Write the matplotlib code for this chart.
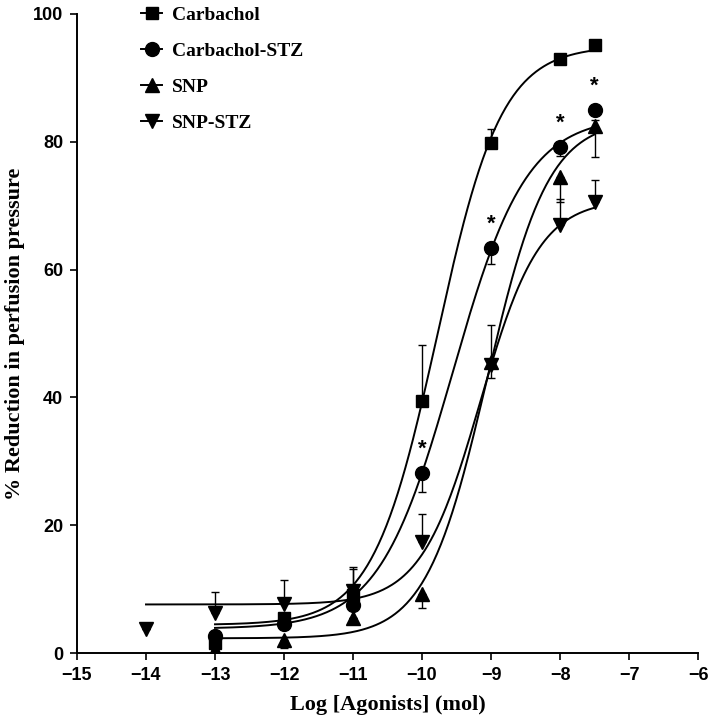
import numpy as np
import matplotlib
matplotlib.use("Agg")
import matplotlib.pyplot as plt

# Data
x_main = [-13, -12, -11, -10, -9, -8, -7.5]
x_snp_stz = [-14, -13, -12, -11, -10, -9, -8, -7.5]

carb = [1.5, 5.5, 9.0, 39.4, 79.8, 92.9, 95.2]
carb_up = [0, 0, 4.5, 8.8, 2.2, 0, 0.8]
carb_dn = [0, 1.8, 0, 0, 0, 0, 0]

carb_stz = [2.7, 4.5, 7.5, 28.2, 63.4, 79.2, 85.0]
carb_stz_up = [0, 0, 0, 0, 0, 0, 0]
carb_stz_dn = [0, 0, 0, 3.0, 2.5, 1.5, 0]

snp = [0.5, 2.0, 5.5, 9.2, 45.5, 74.5, 82.4]
snp_up = [0, 0, 0, 0, 5.8, 0, 1.0]
snp_dn = [0, 1.2, 0, 2.2, 0, 4.0, 4.8]

snp_stz = [3.8, 6.2, 7.7, 9.7, 17.3, 45.0, 67.0, 70.5]
snp_stz_up = [0, 3.3, 3.8, 3.5, 4.5, 0, 4.0, 3.5]
snp_stz_dn = [0, 0, 0, 0, 0, 2.0, 0, 0]

# fitted sigmoid parameters: bottom, top, logEC50, hill, x start
fit_carb = [4.4, 95.0, -9.78, 0.93, -13]
fit_carb_stz = [3.8, 84.0, -9.556, 0.81, -13]
fit_snp = [2.3, 83.5, -9.057, 0.98, -13]
fit_snp_stz = [7.6, 71.0, -9.156, 1.01, -14]

star_x = [-10, -9, -8, -7.5]
star_y = [28.2, 63.4, 79.2, 85.0]

x_ticks = [-15, -14, -13, -12, -11, -10, -9, -8, -7, -6]
y_ticks = [0, 20, 40, 60, 80, 100]

serif = "Liberation Serif"
sans = "Liberation Sans"


def sigmoid(x, p):
    bottom, top, ec50, hill, _ = p
    return bottom + (top - bottom) / (1 + 10 ** ((ec50 - x) * hill))


fig = plt.figure(figsize=(7.09, 7.21), dpi=100)
ax = fig.add_axes([0.1086, 0.0943, 0.8759, 0.8863])

series = [
    ("Carbachol", x_main, carb, carb_dn, carb_up, fit_carb, "s", 9),
    ("Carbachol-STZ", x_main, carb_stz, carb_stz_dn, carb_stz_up, fit_carb_stz, "o", 10),
    ("SNP", x_main, snp, snp_dn, snp_up, fit_snp, "^", 10),
    ("SNP-STZ", x_snp_stz, snp_stz, snp_stz_dn, snp_stz_up, fit_snp_stz, "v", 10),
]

handles = []
for name, xs, ys, dn, up, fit, mk, ms in series:
    xx = np.linspace(fit[4], -7.5, 300)
    ax.plot(xx, sigmoid(xx, fit), color="black", lw=1.4, zorder=2)
    ax.errorbar(xs, ys, yerr=[dn, up], fmt="none", ecolor="black",
                elinewidth=1.0, capsize=3, capthick=1.0, zorder=3)
    ax.plot(xs, ys, linestyle="none", marker=mk, ms=ms, color="black", zorder=4)
    h, = ax.plot([], [], color="black", lw=1.4, marker=mk, ms=ms)
    handles.append((h, name))

for sx, sy in zip(star_x, star_y):
    ax.text(sx, sy + 2.0, "*", ha="center", va="bottom", fontsize=16,
            fontweight="bold", family=sans)

ax.set_xlim(-15, -6)
ax.set_ylim(0, 100)
ax.set_xticks(x_ticks)
ax.set_yticks(y_ticks)
ax.set_xticklabels([f"\u2212{abs(t)}" for t in x_ticks])
for lab in ax.get_xticklabels() + ax.get_yticklabels():
    lab.set_fontfamily(sans)
    lab.set_fontweight("bold")
    lab.set_fontsize(13)

ax.spines["top"].set_visible(False)
ax.spines["right"].set_visible(False)
ax.spines["left"].set_linewidth(1.4)
ax.spines["bottom"].set_linewidth(1.4)
ax.tick_params(direction="out", length=5, width=1.2, pad=5)

ax.set_xlabel("Log [Agonists] (mol)", fontsize=16, fontweight="bold", family=serif, labelpad=8)
ax.set_ylabel("% Reduction in perfusion pressure", fontsize=16, fontweight="bold",
              family=serif, labelpad=6)

leg = ax.legend([h for h, _ in handles], [n for _, n in handles], loc="upper left",
                bbox_to_anchor=(0.075, 1.04), frameon=False, handlelength=1.1,
                handletextpad=0.5, labelspacing=0.95,
                prop={"family": serif, "weight": "bold", "size": 14})

plt.savefig("out.png", dpi=100)
